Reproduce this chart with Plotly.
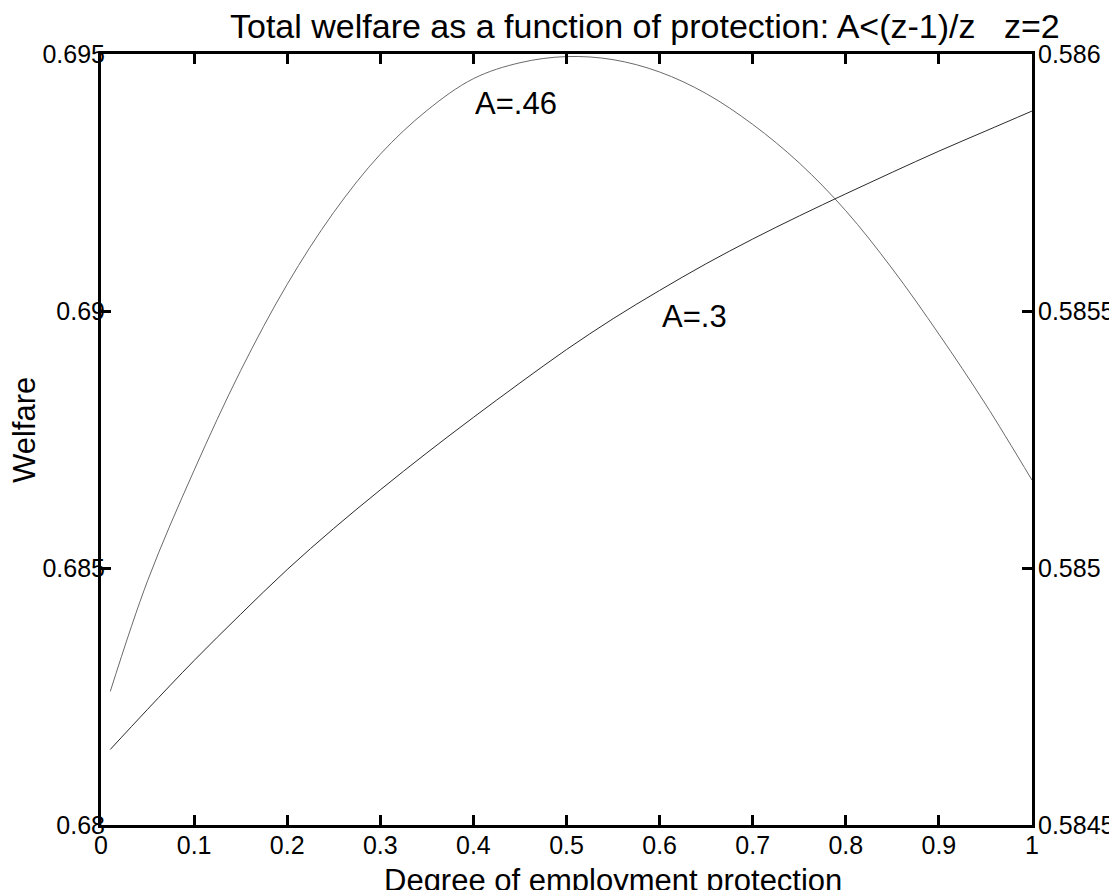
import plotly.graph_objects as go

# Degree of employment protection
x_vals = [0.01, 0.05, 0.10, 0.15, 0.20, 0.25, 0.30, 0.35, 0.40, 0.45, 0.50,
          0.55, 0.60, 0.65, 0.70, 0.75, 0.80, 0.85, 0.90, 0.95, 1.00]

# Welfare, A=.46
welfare_a46 = [0.68260, 0.68475, 0.68690, 0.68884, 0.69052, 0.69192, 0.69305,
               0.69390, 0.69452, 0.69483, 0.69495, 0.69489, 0.69465, 0.69423,
               0.69363, 0.69288, 0.69195, 0.69082, 0.68955, 0.68819, 0.68671]

# Welfare, A=.3
welfare_a30 = [0.68147, 0.68225, 0.68320, 0.68410, 0.68497, 0.68577, 0.68652,
               0.68724, 0.68793, 0.68860, 0.68925, 0.68985, 0.69040, 0.69092,
               0.69140, 0.69185, 0.69228, 0.69270, 0.69311, 0.69350, 0.69389]

x_ticks = [0, 0.1, 0.2, 0.3, 0.4, 0.5, 0.6, 0.7, 0.8, 0.9, 1]
x_ticktext = ["0", "0.1", "0.2", "0.3", "0.4", "0.5", "0.6", "0.7", "0.8", "0.9", "1"]
y_left_ticks = [0.68, 0.685, 0.69, 0.695]
y_left_text = ["0.68", "0.685", "0.69", "0.695"]
y_right_ticks = [0.5845, 0.585, 0.5855, 0.586]
y_right_text = ["0.5845", "0.585", "0.5855", "0.586"]

FONT = "Liberation Sans, Arial, Helvetica, sans-serif"
TICKSIZE = 25

fig = go.Figure()
fig.add_trace(go.Scatter(x=x_vals, y=welfare_a46, mode="lines", name="A=.46",
                         line=dict(color="#6a6a6a", width=1, shape="spline"),
                         hoverinfo="skip"))
fig.add_trace(go.Scatter(x=x_vals, y=welfare_a30, mode="lines", name="A=.3",
                         line=dict(color="#2a2a2a", width=1, shape="spline"),
                         hoverinfo="skip"))
# right axis carrier (no visible marks)
fig.add_trace(go.Scatter(x=[None], y=[None], yaxis="y2", mode="lines",
                         showlegend=False, hoverinfo="skip"))

# the page body has an 8px margin, so the figure is sized/placed to compensate
fig.update_layout(
    width=1109, height=882,
    margin=dict(l=93, r=85, t=46, b=65, autoexpand=False),
    paper_bgcolor="white", plot_bgcolor="white",
    showlegend=False,
    font=dict(family=FONT, color="black", size=TICKSIZE),
    xaxis=dict(range=[0, 1], tickvals=x_ticks, ticktext=x_ticktext,
               showline=True, linecolor="black", linewidth=3, mirror="ticks",
               ticks="inside", ticklen=10, tickwidth=3, tickcolor="black",
               showgrid=False, zeroline=False, ticklabelstandoff=-4,
               automargin=False,
               tickfont=dict(size=TICKSIZE, family=FONT, color="black")),
    yaxis=dict(range=[0.68, 0.695], tickvals=y_left_ticks, ticktext=y_left_text,
               showline=True, linecolor="black", linewidth=3,
               ticks="inside", ticklen=10, tickwidth=3, tickcolor="black",
               showgrid=False, zeroline=False, ticklabelstandoff=-12,
               automargin=False,
               tickfont=dict(size=TICKSIZE, family=FONT, color="black")),
    yaxis2=dict(range=[0.5845, 0.586], tickvals=y_right_ticks, ticktext=y_right_text,
                overlaying="y", side="right", anchor="x",
                showline=True, linecolor="black", linewidth=3,
                ticks="inside", ticklen=10, tickwidth=3, tickcolor="black",
                showgrid=False, zeroline=False, ticklabelstandoff=-2,
                automargin=False,
                tickfont=dict(size=TICKSIZE, family=FONT, color="black")),
    annotations=[
        dict(text="Total welfare as a function of protection: A&lt;(z-1)/z&nbsp;&nbsp;&nbsp;z=2",
             xref="paper", yref="paper", x=(645 - 101) / 931, y=1, xanchor="center",
             yanchor="bottom", yshift=7, showarrow=False,
             font=dict(size=34, family=FONT, color="black")),
        dict(text="Degree of employment protection",
             xref="paper", yref="paper", x=(612.5 - 101) / 931, y=0,
             xanchor="center", yanchor="top", yshift=-36, showarrow=False,
             font=dict(size=31, family=FONT, color="black")),
        dict(text="Welfare", textangle=-90,
             xref="paper", yref="paper", x=(24 - 101) / 931, y=(825 - 430) / 771,
             xanchor="center", yanchor="middle", showarrow=False,
             font=dict(size=31, family=FONT, color="black")),
        dict(text="A=.46", xref="x", yref="y", x=0.4, y=0.69403,
             xanchor="left", yanchor="middle", showarrow=False,
             font=dict(size=31, family=FONT, color="black")),
        dict(text="A=.3", xref="x", yref="y", x=0.6, y=0.6899,
             xanchor="left", yanchor="middle", showarrow=False,
             font=dict(size=31, family=FONT, color="black")),
    ],
)

fig.write_html("out.html")
